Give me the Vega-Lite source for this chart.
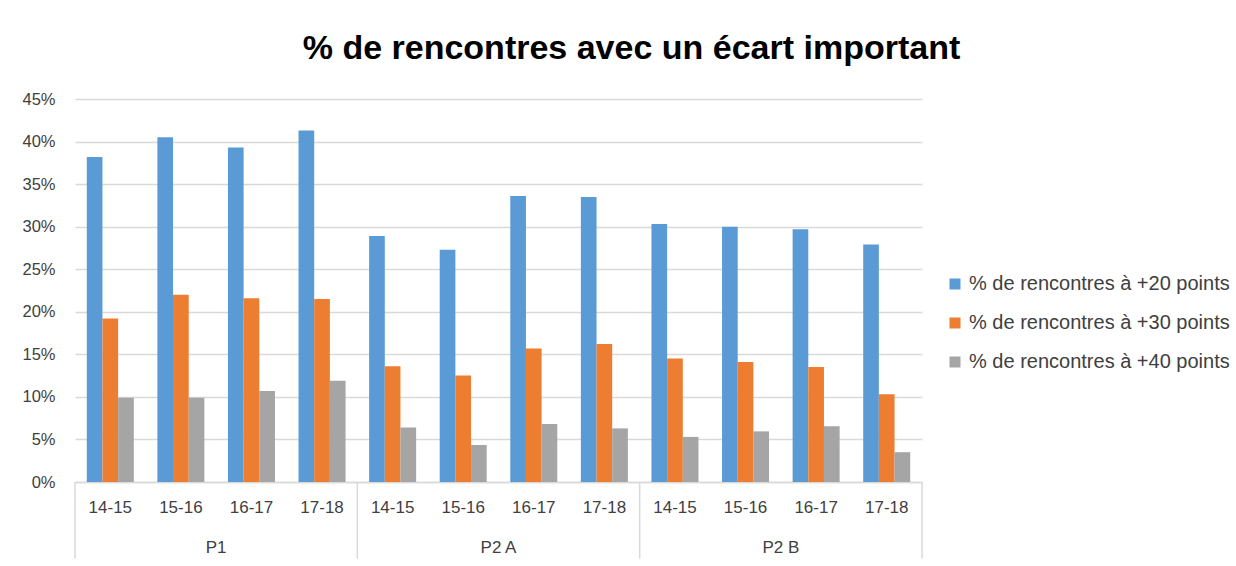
{
  "$schema": "https://vega.github.io/schema/vega-lite/v6.json",
  "width": 847,
  "height": 383,
  "autosize": {"type": "none"},
  "padding": {"left": 75, "top": 99, "right": 314, "bottom": 84},
  "background": "white",
  "config": {
    "view": {"stroke": null},
    "font": "Liberation Sans"
  },
  "title": {
    "text": "% de rencontres avec un écart important",
    "font": "Liberation Sans",
    "fontSize": 34,
    "fontWeight": "bold",
    "color": "#000000",
    "anchor": "middle",
    "frame": "group",
    "dx": 133,
    "offset": 25
  },
  "datasets": {
    "bars": [
      {"cat": "P1|14-15", "series": "% de rencontres à +20 points", "value": 0.382},
      {"cat": "P1|14-15", "series": "% de rencontres à +30 points", "value": 0.192},
      {"cat": "P1|14-15", "series": "% de rencontres à +40 points", "value": 0.099},
      {"cat": "P1|15-16", "series": "% de rencontres à +20 points", "value": 0.405},
      {"cat": "P1|15-16", "series": "% de rencontres à +30 points", "value": 0.220},
      {"cat": "P1|15-16", "series": "% de rencontres à +40 points", "value": 0.099},
      {"cat": "P1|16-17", "series": "% de rencontres à +20 points", "value": 0.393},
      {"cat": "P1|16-17", "series": "% de rencontres à +30 points", "value": 0.216},
      {"cat": "P1|16-17", "series": "% de rencontres à +40 points", "value": 0.107},
      {"cat": "P1|17-18", "series": "% de rencontres à +20 points", "value": 0.413},
      {"cat": "P1|17-18", "series": "% de rencontres à +30 points", "value": 0.215},
      {"cat": "P1|17-18", "series": "% de rencontres à +40 points", "value": 0.119},
      {"cat": "P2 A|14-15", "series": "% de rencontres à +20 points", "value": 0.289},
      {"cat": "P2 A|14-15", "series": "% de rencontres à +30 points", "value": 0.136},
      {"cat": "P2 A|14-15", "series": "% de rencontres à +40 points", "value": 0.064},
      {"cat": "P2 A|15-16", "series": "% de rencontres à +20 points", "value": 0.273},
      {"cat": "P2 A|15-16", "series": "% de rencontres à +30 points", "value": 0.125},
      {"cat": "P2 A|15-16", "series": "% de rencontres à +40 points", "value": 0.0435},
      {"cat": "P2 A|16-17", "series": "% de rencontres à +20 points", "value": 0.336},
      {"cat": "P2 A|16-17", "series": "% de rencontres à +30 points", "value": 0.157},
      {"cat": "P2 A|16-17", "series": "% de rencontres à +40 points", "value": 0.068},
      {"cat": "P2 A|17-18", "series": "% de rencontres à +20 points", "value": 0.335},
      {"cat": "P2 A|17-18", "series": "% de rencontres à +30 points", "value": 0.162},
      {"cat": "P2 A|17-18", "series": "% de rencontres à +40 points", "value": 0.063},
      {"cat": "P2 B|14-15", "series": "% de rencontres à +20 points", "value": 0.303},
      {"cat": "P2 B|14-15", "series": "% de rencontres à +30 points", "value": 0.145},
      {"cat": "P2 B|14-15", "series": "% de rencontres à +40 points", "value": 0.053},
      {"cat": "P2 B|15-16", "series": "% de rencontres à +20 points", "value": 0.300},
      {"cat": "P2 B|15-16", "series": "% de rencontres à +30 points", "value": 0.141},
      {"cat": "P2 B|15-16", "series": "% de rencontres à +40 points", "value": 0.0595},
      {"cat": "P2 B|16-17", "series": "% de rencontres à +20 points", "value": 0.297},
      {"cat": "P2 B|16-17", "series": "% de rencontres à +30 points", "value": 0.135},
      {"cat": "P2 B|16-17", "series": "% de rencontres à +40 points", "value": 0.0655},
      {"cat": "P2 B|17-18", "series": "% de rencontres à +20 points", "value": 0.279},
      {"cat": "P2 B|17-18", "series": "% de rencontres à +30 points", "value": 0.103},
      {"cat": "P2 B|17-18", "series": "% de rencontres à +40 points", "value": 0.035}
    ],
    "groups": [
      {"label": "P1", "start": "P1|14-15", "mid": "P1|15-16"},
      {"label": "P2 A", "start": "P2 A|14-15", "mid": "P2 A|15-16"},
      {"label": "P2 B", "start": "P2 B|14-15", "mid": "P2 B|15-16"}
    ],
    "end": [
      {"last": "P2 B|17-18"}
    ]
  },
  "encoding": {
    "x": {
      "field": "cat",
      "type": "nominal",
      "sort": null,
      "scale": {"paddingInner": 0, "paddingOuter": 0},
      "axis": {
        "title": null,
        "labelAngle": 0,
        "labelExpr": "split(datum.label, '|')[1]",
        "labelFont": "Liberation Sans",
        "labelFontSize": 17,
        "labelColor": "#404040",
        "labelPadding": 17,
        "ticks": false,
        "grid": false,
        "domainColor": "#d9d9d9",
        "domainWidth": 1.5
      }
    }
  },
  "layer": [
    {
      "data": {"name": "bars"},
      "mark": {"type": "bar"},
      "encoding": {
        "xOffset": {
          "field": "series",
          "type": "nominal",
          "scale": {"paddingInner": 0, "paddingOuter": 0.752}
        },
        "y": {
          "field": "value",
          "type": "quantitative",
          "scale": {"domain": [0, 0.45], "nice": false},
          "axis": {
            "title": null,
            "values": [0, 0.05, 0.1, 0.15, 0.2, 0.25, 0.3, 0.35, 0.4, 0.45],
            "format": ".0%",
            "labelFont": "Liberation Sans",
            "labelFontSize": 16.5,
            "labelColor": "#404040",
            "labelPadding": 20,
            "domain": false,
            "ticks": false,
            "gridColor": "#d9d9d9",
            "gridWidth": 1.5
          }
        },
        "color": {
          "field": "series",
          "type": "nominal",
          "scale": {
            "domain": ["% de rencontres à +20 points", "% de rencontres à +30 points", "% de rencontres à +40 points"],
            "range": ["#5b9bd5", "#ed7d31", "#a5a5a5"]
          },
          "legend": {
            "title": null,
            "orient": "none",
            "legendX": 870,
            "legendY": 175,
            "symbolType": "square",
            "symbolSize": 121,
            "symbolStrokeWidth": 0,
            "labelFont": "Liberation Sans",
            "labelFontSize": 20,
            "labelColor": "#404040",
            "labelOffset": 4,
            "labelLimit": 0,
            "rowPadding": 19
          }
        }
      }
    },
    {
      "data": {"name": "groups"},
      "mark": {"type": "rule", "color": "#d9d9d9", "strokeWidth": 1.5, "xOffset": -35.29},
      "encoding": {"x": {"field": "start", "type": "nominal"}, "y": {"datum": 0}, "y2": {"datum": -0.09}}
    },
    {
      "data": {"name": "end"},
      "mark": {"type": "rule", "color": "#d9d9d9", "strokeWidth": 1.5, "xOffset": 35.29},
      "encoding": {"x": {"field": "last", "type": "nominal"}, "y": {"datum": 0}, "y2": {"datum": -0.09}}
    },
    {
      "data": {"name": "groups"},
      "mark": {"type": "text", "font": "Liberation Sans", "fontSize": 17, "fontWeight": "normal", "fill": "#404040", "baseline": "middle", "align": "center", "xOffset": 35.29},
      "encoding": {"x": {"field": "mid", "type": "nominal"}, "y": {"datum": -0.078}, "text": {"field": "label"}}
    }
  ]
}
